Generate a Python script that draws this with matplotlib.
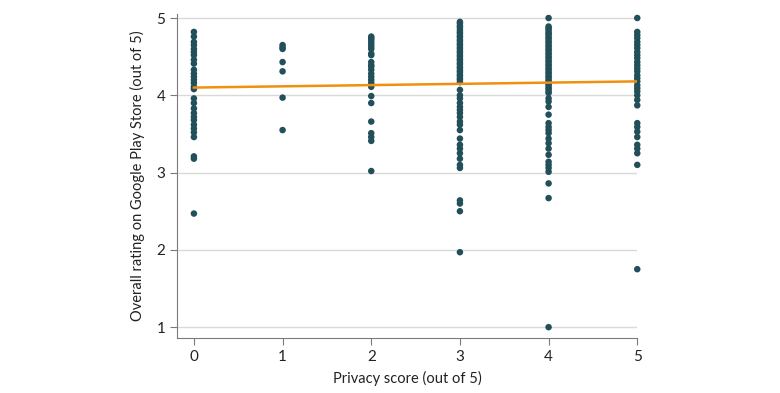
import numpy as np
import matplotlib.pyplot as plt

# ratings, grouped by privacy score
r0 = [4.82, 4.76, 4.69, 4.65, 4.60, 4.56, 4.52, 4.46, 4.41, 4.33, 4.28, 4.24, 4.20,
      4.16, 4.11, 4.08, 3.96, 3.90, 3.83, 3.77, 3.72, 3.68, 3.62, 3.57, 3.52, 3.46,
      3.21, 3.18, 2.47]
r1 = [4.65, 4.62, 4.60, 4.43, 4.31, 3.97, 3.55]
r2 = [4.76, 4.74, 4.72, 4.69, 4.66, 4.63, 4.60, 4.54, 4.52, 4.43, 4.39, 4.37, 4.33,
      4.28, 4.24, 4.20, 4.16, 4.11, 3.99, 3.90, 3.66, 3.51, 3.46, 3.41, 3.02]
r3 = [4.95, 4.93, 4.90, 4.88, 4.85, 4.82, 4.80, 4.77, 4.75, 4.72, 4.70, 4.67, 4.65,
      4.62, 4.60, 4.57, 4.55, 4.52, 4.50, 4.47, 4.45, 4.42, 4.40, 4.37, 4.35, 4.32,
      4.30, 4.27, 4.25, 4.22, 4.20, 4.17, 4.07, 4.00, 3.96, 3.90, 3.85, 3.81, 3.77,
      3.72, 3.66, 3.62, 3.55, 3.44, 3.36, 3.31, 3.25, 3.18, 3.10, 3.06, 2.64, 2.60,
      2.50, 1.97]
r4 = [5.00, 4.89, 4.87, 4.85, 4.82, 4.80, 4.78, 4.75, 4.73, 4.70, 4.68, 4.65, 4.63,
      4.60, 4.58, 4.55, 4.53, 4.50, 4.48, 4.45, 4.43, 4.40, 4.38, 4.35, 4.33, 4.30,
      4.28, 4.25, 4.23, 4.20, 4.18, 4.15, 4.13, 4.10, 4.08, 4.05, 4.03, 3.96, 3.92,
      3.85, 3.75, 3.64, 3.59, 3.55, 3.51, 3.44, 3.38, 3.31, 3.23, 3.14, 3.10, 3.06,
      3.01, 2.86, 2.67, 1.00]
r5 = [5.00, 4.82, 4.78, 4.74, 4.69, 4.65, 4.61, 4.56, 4.52, 4.48, 4.43, 4.39, 4.35,
      4.31, 4.26, 4.22, 4.18, 4.13, 4.09, 4.05, 4.00, 3.94, 3.87, 3.64, 3.59, 3.53,
      3.46, 3.36, 3.31, 3.25, 3.10, 1.75]
ratings = [r0, r1, r2, r3, r4, r5]

# fitted line end points
fit_x = [0, 5]
fit_y = [4.10, 4.18]

plt.rcParams['font.family'] = ['Lato', 'DejaVu Sans']

fig = plt.figure(figsize=(7.8, 3.93), dpi=100)
ax = fig.add_axes([0.227, 0.140, 0.590, 0.824])

for score, vals in enumerate(ratings):
    ax.scatter([score] * len(vals), vals, s=22, color="#22505a",
               edgecolors="none", zorder=3, clip_on=False)

ax.plot(fit_x, fit_y, color="#f0900f", linewidth=1.8, zorder=4)

ax.set_xlim(-0.19, 5.0)
ax.set_ylim(0.86, 5.05)
ax.set_xticks(range(6))
ax.set_yticks([1, 2, 3, 4, 5])
ax.yaxis.grid(True, color="#d9d9d9", linewidth=1)
ax.set_axisbelow(True)

for side in ("top", "right"):
    ax.spines[side].set_visible(False)
for side in ("left", "bottom"):
    ax.spines[side].set_color("#7a7a7a")
ax.tick_params(colors="#7a7a7a", labelcolor="#222222", labelsize=11, length=5)

ax.set_xlabel("Privacy score (out of 5)", fontsize=10.5, color="#222222", labelpad=5)
ax.set_ylabel("Overall rating on Google Play Store (out of 5)", fontsize=10.5,
              color="#222222", labelpad=8)

plt.savefig("out.png", dpi=100)
